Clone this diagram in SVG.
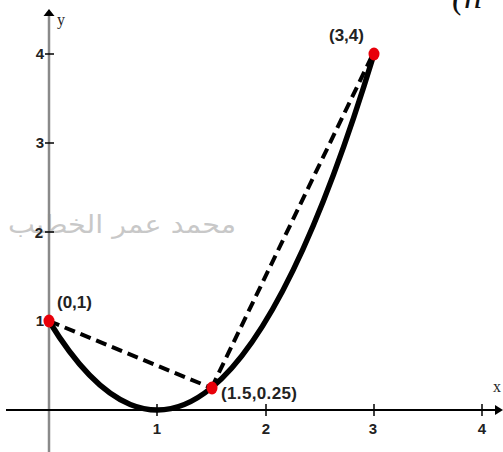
<svg xmlns="http://www.w3.org/2000/svg" width="503" height="452" viewBox="0 0 503 452">
<style>
.tick{stroke:#000;stroke-width:1.5}
.lbl{font-family:"Liberation Sans Narrow","Liberation Sans",sans-serif;font-weight:bold;font-size:15px;fill:#222}
.pt{font-family:"Liberation Sans",sans-serif;font-weight:bold;font-size:17px;fill:#222}
.ax{font-family:"Liberation Serif",serif;font-size:16px;fill:#222}
.dot{fill:#e8000a}
.dash{fill:none;stroke:#000;stroke-width:4;stroke-dasharray:11 6}
</style>
<rect width="503" height="452" fill="#fff"/>
<text x="122" y="233" text-anchor="middle" font-family="'DejaVu Sans',sans-serif" font-size="25" textLength="228" lengthAdjust="spacingAndGlyphs" fill="#c8c8c8">محمد عمر الخطيب</text>
<text x="452" y="8" font-family="'Liberation Serif',serif" font-style="italic" font-size="36" fill="#111">(n</text>
<g id="axes">
<line x1="49" y1="15" x2="49" y2="452" stroke="#8a8a8a" stroke-width="2.5"/>
<polygon points="49,9 43.5,16 54.5,16" fill="#000"/>
<line x1="6" y1="410" x2="497" y2="410" stroke="#000" stroke-width="2"/>
<polygon points="503,410 495,405 495,415" fill="#000"/>
<text class="ax" x="57" y="25">y</text>
<text class="ax" x="493" y="392">x</text>
<line class="tick" x1="45" y1="54" x2="54" y2="54"/>
<line class="tick" x1="45" y1="143" x2="54" y2="143"/>
<line class="tick" x1="45" y1="232" x2="54" y2="232"/>
<line class="tick" x1="45" y1="321" x2="54" y2="321"/>
<line class="tick" x1="157" y1="404" x2="157" y2="416"/>
<line class="tick" x1="266" y1="404" x2="266" y2="416"/>
<line class="tick" x1="374" y1="404" x2="374" y2="416"/>
<line class="tick" x1="482" y1="404" x2="482" y2="416"/>
<text class="lbl" x="40" y="59" text-anchor="middle">4</text>
<text class="lbl" x="40" y="148" text-anchor="middle">3</text>
<text class="lbl" x="39" y="238" text-anchor="middle">2</text>
<text class="lbl" x="40" y="326" text-anchor="middle">1</text>
<text class="lbl" x="157" y="434" text-anchor="middle">1</text>
<text class="lbl" x="266" y="434" text-anchor="middle">2</text>
<text class="lbl" x="373" y="434" text-anchor="middle">3</text>
<text class="lbl" x="482" y="434" text-anchor="middle">4</text>
</g>
<g id="connectors">
<path d="M49,321 Q211.5,588 374,54" fill="none" stroke="#000" stroke-width="5.5"/>
<line class="dash" x1="49" y1="321" x2="211.5" y2="388"/>
<line class="dash" x1="211.5" y1="388" x2="372" y2="56"/>
</g>
<g id="p01">
<ellipse class="dot" cx="49" cy="321" rx="5.5" ry="6.5"/>
<text class="pt" x="57" y="308">(0,1)</text>
</g>
<g id="p15">
<ellipse class="dot" cx="212" cy="388" rx="5.5" ry="6.5"/>
<text class="pt" x="221" y="399" textLength="76">(1.5,0.25)</text>
</g>
<g id="p34">
<ellipse class="dot" cx="374" cy="54" rx="5.5" ry="6.5"/>
<text class="pt" x="329" y="41">(3,4)</text>
</g>
</svg>
